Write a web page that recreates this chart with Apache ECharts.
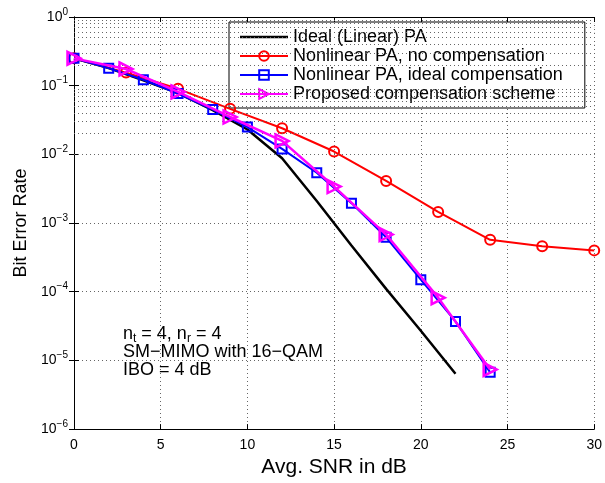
<!DOCTYPE html>
<html>
<head>
<meta charset="utf-8">
<script src="https://cdn.jsdelivr.net/npm/echarts@6/dist/echarts.min.js"></script>
<style>
  html, body { margin: 0; padding: 0; background: #fff; }
  #chart { width: 605px; height: 483px; }
</style>
</head>
<body>
<div id="chart"></div>
<script>
// values
const snrIdeal = [0, 2, 4, 6, 8, 10, 12, 14, 16, 18, 20, 22]
const berIdeal = [0.25, 0.18, 0.12, 0.078, 0.044, 0.023, 0.0088, 0.0021, 4.7e-4, 1.1e-4, 2.7e-5, 6.4e-6]

const snrNoComp = [0, 3, 6, 9, 12, 15, 18, 21, 24, 27, 30]
const berNoComp = [0.25, 0.155, 0.09, 0.046, 0.024, 0.011, 0.0041, 0.00145, 5.7e-4, 4.6e-4, 4.0e-4]

const snrIdealComp = [0, 2, 4, 6, 8, 10, 12, 14, 16, 18, 20, 22, 24]
const berIdealComp = [0.25, 0.18, 0.122, 0.077, 0.045, 0.025, 0.012, 0.0054, 0.00195, 6.2e-4, 1.5e-4, 3.7e-5, 6.7e-6]

const snrProposed = [0, 3, 6, 9, 12, 15, 18, 21, 24]
const berProposed = [0.25, 0.175, 0.081, 0.035, 0.0157, 0.0034, 6.8e-4, 8.2e-5, 7.4e-6]

const seriesNames = [
    'Ideal (Linear) PA',
    'Nonlinear PA, no compensation',
    'Nonlinear PA, ideal compensation',
    'Proposed compensation scheme'
]
const noteLines = ['SM\u2212MIMO with 16\u2212QAM', 'IBO = 4 dB']

const FONT = 'Liberation Sans, Arial, sans-serif'

// minor log grid positions: 2..9 x 10^k
const minorGrid = []
for (let k = -6; k < 0; k++) {
    for (let m = 2; m <= 9; m++) minorGrid.push(m * Math.pow(10, k))
}

const pairs = (xs, ys) => xs.map((x, i) => [x, ys[i]])

const dotted = { type: [1, 3], color: '#666', width: 1 }

const expLabel = v => {
    const e = Math.round(Math.log10(v))
    return '{b|10}{s|' + (e < 0 ? '\u2212' + (-e) : e) + '}'
}

const yAxisBase = {
    type: 'log',
    logBase: 10,
    min: 1e-6,
    max: 1,
    axisLine: { show: true, lineStyle: { color: '#000', width: 1 } },
    axisTick: { show: true, inside: true, length: 5, lineStyle: { color: '#000' } },
    splitLine: { show: false }
}
const xAxisBase = {
    type: 'value',
    min: 0,
    max: 30,
    interval: 5,
    axisLine: { show: true, onZero: false, lineStyle: { color: '#000', width: 1 } },
    axisTick: { show: true, inside: true, length: 5, lineStyle: { color: '#000' } },
    splitLine: { show: false }
}

const chart = echarts.init(document.getElementById('chart'), null, { renderer: 'canvas' })

const option = {
    animation: false,
    backgroundColor: '#fff',
    grid: { left: 74, right: 6, top: 17, bottom: 46 },
    legend: {
        data: [
            { name: seriesNames[0], icon: 'path://M0,0H48V2.5H0Z' },
            seriesNames[1],
            seriesNames[2],
            seriesNames[3]
        ],
        orient: 'vertical',
        left: 229,
        top: 22,
        itemWidth: 48,
        itemHeight: 12,
        itemGap: 1,
        padding: [6, 22, 5, 10],
        backgroundColor: '#fff',
        borderColor: '#000',
        borderWidth: 1,
        textStyle: { fontSize: 18, color: '#000', fontFamily: FONT, lineHeight: 18 }
    },
    xAxis: [
        Object.assign({}, xAxisBase, {
            position: 'bottom',
            name: 'Avg. SNR in dB',
            nameLocation: 'middle',
            nameGap: 26,
            nameTextStyle: { fontSize: 21, color: '#000', fontFamily: FONT },
            axisLabel: { fontSize: 14, color: '#000', fontFamily: FONT, margin: 9 },
            splitLine: { show: true, lineStyle: dotted }
        }),
        Object.assign({}, xAxisBase, { position: 'top', axisLabel: { show: false } })
    ],
    yAxis: [
        Object.assign({}, yAxisBase, {
            position: 'left',
            name: 'Bit Error Rate',
            nameLocation: 'middle',
            nameRotate: 90,
            nameGap: 44,
            nameTextStyle: { fontSize: 18, color: '#000', fontFamily: FONT },
            axisLabel: {
                margin: 6,
                formatter: expLabel,
                rich: {
                    b: { fontSize: 14, color: '#000', fontFamily: FONT },
                    s: { fontSize: 10, color: '#000', fontFamily: FONT, padding: [0, 0, 10, 0] }
                }
            },
            splitLine: { show: true, lineStyle: dotted }
        }),
        Object.assign({}, yAxisBase, { position: 'right', axisLabel: { show: false } })
    ],
    graphic: [
        {
            type: 'text',
            left: 123,
            top: 325,
            style: {
                text: '{a|n}{s|t}{a| = 4, n}{s|r}{a| = 4}',
                rich: {
                    a: { fontSize: 18, fill: '#000', fontFamily: FONT },
                    s: { fontSize: 12, fill: '#000', fontFamily: FONT, padding: [10, 0, 0, 0] }
                }
            }
        },
        {
            type: 'text',
            left: 123,
            top: 343,
            style: {
                text: noteLines.join('\n'),
                fontSize: 18,
                lineHeight: 18,
                fill: '#000',
                fontFamily: FONT
            }
        }
    ],
    series: [
        {
            name: '_minorGrid',
            type: 'line',
            data: [],
            silent: true,
            markLine: {
                silent: true,
                symbol: ['none', 'none'],
                label: { show: false },
                lineStyle: dotted,
                data: minorGrid.map(v => ({ yAxis: v }))
            }
        },
        {
            name: seriesNames[0],
            type: 'line',
            data: pairs(snrIdeal, berIdeal),
            symbol: 'none',
            lineStyle: { color: '#000', width: 2.5 },
            itemStyle: { color: '#000' },
            z: 3
        },
        {
            name: seriesNames[1],
            type: 'line',
            data: pairs(snrNoComp, berNoComp),
            symbol: 'circle',
            symbolSize: 10,
            lineStyle: { color: '#ff0000', width: 2 },
            itemStyle: { color: 'rgba(255,255,255,0)', borderColor: '#ff0000', borderWidth: 2 },
            z: 4
        },
        {
            name: seriesNames[2],
            type: 'line',
            data: pairs(snrIdealComp, berIdealComp),
            symbol: 'rect',
            symbolSize: 9,
            lineStyle: { color: '#0000ff', width: 2 },
            itemStyle: { color: 'rgba(255,255,255,0)', borderColor: '#0000ff', borderWidth: 2 },
            z: 5
        },
        {
            name: seriesNames[3],
            type: 'line',
            data: pairs(snrProposed, berProposed),
            symbol: 'path://M0,0L10,5L0,10Z',
            symbolSize: 13,
            lineStyle: { color: '#ff00ff', width: 2.5 },
            itemStyle: { color: 'rgba(255,255,255,0)', borderColor: '#ff00ff', borderWidth: 2.5 },
            z: 6
        }
    ]
}

chart.setOption(option)
</script>
</body>
</html>
